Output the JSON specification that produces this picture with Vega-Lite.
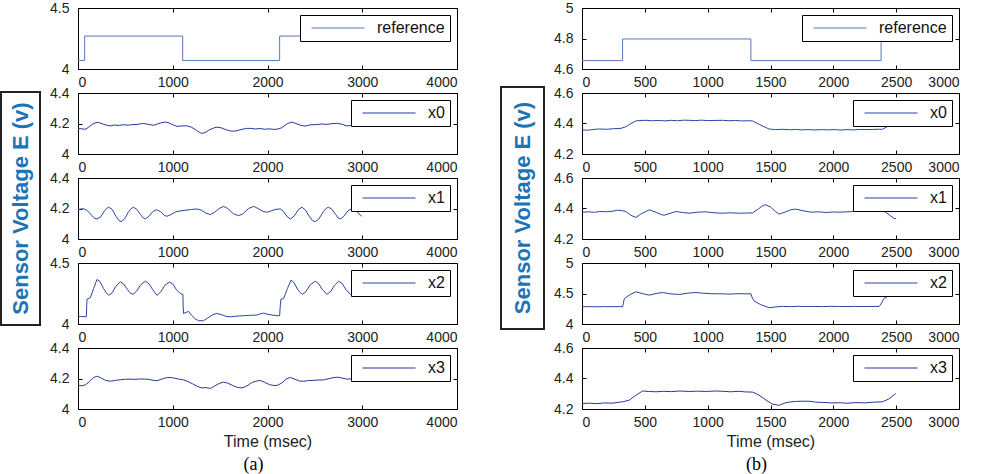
{
"$schema": "https://vega.github.io/schema/vega-lite/v6.json",
"padding": {"left": 0, "top": 0, "right": 0, "bottom": 0},
"background": "white",
"config": {
  "view": {"stroke": "#000", "strokeWidth": 1},
  "axis": {"labelFont": "Liberation Sans", "labelFontSize": 14, "labelColor": "#222", "domainColor": "#000", "tickColor": "#000", "tickSize": -4, "grid": false, "titleFont": "Liberation Sans", "titleFontWeight": "normal", "titleFontSize": 16, "titleColor": "#222", "titlePadding": 4},
  "axisX": {"labelPadding": 10},
  "axisY": {"labelPadding": 13},
  "legend": {"orient": "top-right", "offset": 7, "padding": 5, "strokeColor": "#000", "fillColor": "#fff", "symbolType": "stroke", "symbolSize": 2809, "symbolStrokeWidth": 1, "symbolOffset": 6, "labelFont": "Liberation Sans", "labelFontSize": 16, "labelColor": "#111", "labelOffset": 12, "cornerRadius": 0, "clipHeight": 16},
  "line": {"strokeWidth": 1}
},
"datasets": {
  "aref": [{"t":0,"v":4.07,"s":"reference"},{"t":70,"v":4.27,"s":"reference"},{"t":1105,"v":4.07,"s":"reference"},{"t":2128,"v":4.27,"s":"reference"},{"t":3000,"v":4.27,"s":"reference"}],
  "ax0": [{"t":0,"v":4.168,"s":"x0"},{"t":40,"v":4.165,"s":"x0"},{"t":77,"v":4.162,"s":"x0"},{"t":110,"v":4.175,"s":"x0"},{"t":150,"v":4.195,"s":"x0"},{"t":200,"v":4.208,"s":"x0"},{"t":230,"v":4.204,"s":"x0"},{"t":270,"v":4.195,"s":"x0"},{"t":310,"v":4.188,"s":"x0"},{"t":341,"v":4.184,"s":"x0"},{"t":380,"v":4.19,"s":"x0"},{"t":430,"v":4.187,"s":"x0"},{"t":480,"v":4.192,"s":"x0"},{"t":530,"v":4.189,"s":"x0"},{"t":580,"v":4.193,"s":"x0"},{"t":623,"v":4.194,"s":"x0"},{"t":660,"v":4.198,"s":"x0"},{"t":693,"v":4.2,"s":"x0"},{"t":730,"v":4.196,"s":"x0"},{"t":770,"v":4.191,"s":"x0"},{"t":799,"v":4.188,"s":"x0"},{"t":840,"v":4.197,"s":"x0"},{"t":880,"v":4.205,"s":"x0"},{"t":922,"v":4.21,"s":"x0"},{"t":960,"v":4.204,"s":"x0"},{"t":1000,"v":4.192,"s":"x0"},{"t":1045,"v":4.181,"s":"x0"},{"t":1090,"v":4.184,"s":"x0"},{"t":1150,"v":4.185,"s":"x0"},{"t":1200,"v":4.175,"s":"x0"},{"t":1250,"v":4.155,"s":"x0"},{"t":1290,"v":4.139,"s":"x0"},{"t":1309,"v":4.136,"s":"x0"},{"t":1340,"v":4.14,"s":"x0"},{"t":1380,"v":4.156,"s":"x0"},{"t":1430,"v":4.17,"s":"x0"},{"t":1467,"v":4.176,"s":"x0"},{"t":1510,"v":4.172,"s":"x0"},{"t":1560,"v":4.16,"s":"x0"},{"t":1600,"v":4.152,"s":"x0"},{"t":1643,"v":4.149,"s":"x0"},{"t":1690,"v":4.155,"s":"x0"},{"t":1740,"v":4.163,"s":"x0"},{"t":1780,"v":4.168,"s":"x0"},{"t":1819,"v":4.168,"s":"x0"},{"t":1870,"v":4.164,"s":"x0"},{"t":1920,"v":4.167,"s":"x0"},{"t":1970,"v":4.162,"s":"x0"},{"t":2020,"v":4.165,"s":"x0"},{"t":2070,"v":4.161,"s":"x0"},{"t":2110,"v":4.164,"s":"x0"},{"t":2150,"v":4.172,"s":"x0"},{"t":2200,"v":4.195,"s":"x0"},{"t":2240,"v":4.207,"s":"x0"},{"t":2259,"v":4.209,"s":"x0"},{"t":2300,"v":4.2,"s":"x0"},{"t":2350,"v":4.188,"s":"x0"},{"t":2399,"v":4.183,"s":"x0"},{"t":2440,"v":4.19,"s":"x0"},{"t":2480,"v":4.192,"s":"x0"},{"t":2522,"v":4.193,"s":"x0"},{"t":2570,"v":4.197,"s":"x0"},{"t":2620,"v":4.194,"s":"x0"},{"t":2670,"v":4.198,"s":"x0"},{"t":2733,"v":4.201,"s":"x0"},{"t":2780,"v":4.196,"s":"x0"},{"t":2839,"v":4.184,"s":"x0"},{"t":2880,"v":4.188,"s":"x0"},{"t":2930,"v":4.192,"s":"x0"},{"t":2980,"v":4.19,"s":"x0"}],
  "ax1": [{"t":0,"v":4.192,"s":"x1"},{"t":30,"v":4.197,"s":"x1"},{"t":60,"v":4.199,"s":"x1"},{"t":100,"v":4.185,"s":"x1"},{"t":140,"v":4.158,"s":"x1"},{"t":170,"v":4.138,"s":"x1"},{"t":200,"v":4.131,"s":"x1"},{"t":240,"v":4.145,"s":"x1"},{"t":280,"v":4.185,"s":"x1"},{"t":310,"v":4.205,"s":"x1"},{"t":324,"v":4.208,"s":"x1"},{"t":360,"v":4.195,"s":"x1"},{"t":400,"v":4.15,"s":"x1"},{"t":430,"v":4.122,"s":"x1"},{"t":454,"v":4.114,"s":"x1"},{"t":490,"v":4.13,"s":"x1"},{"t":530,"v":4.175,"s":"x1"},{"t":560,"v":4.2,"s":"x1"},{"t":587,"v":4.208,"s":"x1"},{"t":620,"v":4.195,"s":"x1"},{"t":660,"v":4.16,"s":"x1"},{"t":690,"v":4.137,"s":"x1"},{"t":711,"v":4.131,"s":"x1"},{"t":750,"v":4.15,"s":"x1"},{"t":790,"v":4.18,"s":"x1"},{"t":827,"v":4.192,"s":"x1"},{"t":870,"v":4.18,"s":"x1"},{"t":910,"v":4.155,"s":"x1"},{"t":939,"v":4.149,"s":"x1"},{"t":980,"v":4.16,"s":"x1"},{"t":1030,"v":4.178,"s":"x1"},{"t":1098,"v":4.186,"s":"x1"},{"t":1150,"v":4.19,"s":"x1"},{"t":1200,"v":4.194,"s":"x1"},{"t":1256,"v":4.197,"s":"x1"},{"t":1300,"v":4.19,"s":"x1"},{"t":1350,"v":4.17,"s":"x1"},{"t":1397,"v":4.16,"s":"x1"},{"t":1440,"v":4.175,"s":"x1"},{"t":1490,"v":4.2,"s":"x1"},{"t":1537,"v":4.214,"s":"x1"},{"t":1580,"v":4.2,"s":"x1"},{"t":1640,"v":4.165,"s":"x1"},{"t":1696,"v":4.153,"s":"x1"},{"t":1740,"v":4.165,"s":"x1"},{"t":1800,"v":4.2,"s":"x1"},{"t":1854,"v":4.214,"s":"x1"},{"t":1900,"v":4.2,"s":"x1"},{"t":1950,"v":4.182,"s":"x1"},{"t":1995,"v":4.175,"s":"x1"},{"t":2040,"v":4.185,"s":"x1"},{"t":2090,"v":4.195,"s":"x1"},{"t":2135,"v":4.197,"s":"x1"},{"t":2170,"v":4.18,"s":"x1"},{"t":2210,"v":4.145,"s":"x1"},{"t":2241,"v":4.131,"s":"x1"},{"t":2280,"v":4.15,"s":"x1"},{"t":2330,"v":4.195,"s":"x1"},{"t":2364,"v":4.208,"s":"x1"},{"t":2400,"v":4.19,"s":"x1"},{"t":2440,"v":4.15,"s":"x1"},{"t":2475,"v":4.12,"s":"x1"},{"t":2505,"v":4.114,"s":"x1"},{"t":2540,"v":4.13,"s":"x1"},{"t":2590,"v":4.18,"s":"x1"},{"t":2620,"v":4.202,"s":"x1"},{"t":2645,"v":4.208,"s":"x1"},{"t":2680,"v":4.195,"s":"x1"},{"t":2720,"v":4.16,"s":"x1"},{"t":2745,"v":4.138,"s":"x1"},{"t":2769,"v":4.131,"s":"x1"},{"t":2800,"v":4.145,"s":"x1"},{"t":2850,"v":4.185,"s":"x1"},{"t":2892,"v":4.199,"s":"x1"},{"t":2930,"v":4.19,"s":"x1"},{"t":2960,"v":4.17,"s":"x1"},{"t":2980,"v":4.155,"s":"x1"},{"t":2995,"v":4.15,"s":"x1"}],
  "ax2": [{"t":0,"v":4.059,"s":"x2"},{"t":40,"v":4.062,"s":"x2"},{"t":88,"v":4.059,"s":"x2"},{"t":92,"v":4.15,"s":"x2"},{"t":95,"v":4.203,"s":"x2"},{"t":130,"v":4.216,"s":"x2"},{"t":165,"v":4.29,"s":"x2"},{"t":200,"v":4.365,"s":"x2"},{"t":230,"v":4.35,"s":"x2"},{"t":270,"v":4.29,"s":"x2"},{"t":300,"v":4.255,"s":"x2"},{"t":323,"v":4.235,"s":"x2"},{"t":360,"v":4.255,"s":"x2"},{"t":400,"v":4.31,"s":"x2"},{"t":446,"v":4.346,"s":"x2"},{"t":480,"v":4.33,"s":"x2"},{"t":520,"v":4.285,"s":"x2"},{"t":550,"v":4.255,"s":"x2"},{"t":580,"v":4.243,"s":"x2"},{"t":620,"v":4.27,"s":"x2"},{"t":660,"v":4.32,"s":"x2"},{"t":710,"v":4.351,"s":"x2"},{"t":750,"v":4.33,"s":"x2"},{"t":790,"v":4.28,"s":"x2"},{"t":833,"v":4.235,"s":"x2"},{"t":870,"v":4.26,"s":"x2"},{"t":920,"v":4.32,"s":"x2"},{"t":963,"v":4.343,"s":"x2"},{"t":1000,"v":4.33,"s":"x2"},{"t":1040,"v":4.28,"s":"x2"},{"t":1079,"v":4.249,"s":"x2"},{"t":1107,"v":4.243,"s":"x2"},{"t":1110,"v":4.15,"s":"x2"},{"t":1114,"v":4.086,"s":"x2"},{"t":1140,"v":4.095,"s":"x2"},{"t":1167,"v":4.103,"s":"x2"},{"t":1200,"v":4.07,"s":"x2"},{"t":1240,"v":4.04,"s":"x2"},{"t":1272,"v":4.027,"s":"x2"},{"t":1325,"v":4.027,"s":"x2"},{"t":1370,"v":4.05,"s":"x2"},{"t":1420,"v":4.075,"s":"x2"},{"t":1466,"v":4.086,"s":"x2"},{"t":1510,"v":4.078,"s":"x2"},{"t":1560,"v":4.063,"s":"x2"},{"t":1607,"v":4.059,"s":"x2"},{"t":1650,"v":4.062,"s":"x2"},{"t":1700,"v":4.066,"s":"x2"},{"t":1748,"v":4.068,"s":"x2"},{"t":1800,"v":4.07,"s":"x2"},{"t":1850,"v":4.072,"s":"x2"},{"t":1888,"v":4.073,"s":"x2"},{"t":1930,"v":4.085,"s":"x2"},{"t":1960,"v":4.089,"s":"x2"},{"t":2000,"v":4.08,"s":"x2"},{"t":2060,"v":4.072,"s":"x2"},{"t":2100,"v":4.068,"s":"x2"},{"t":2128,"v":4.068,"s":"x2"},{"t":2135,"v":4.15,"s":"x2"},{"t":2142,"v":4.203,"s":"x2"},{"t":2170,"v":4.208,"s":"x2"},{"t":2210,"v":4.29,"s":"x2"},{"t":2248,"v":4.359,"s":"x2"},{"t":2280,"v":4.34,"s":"x2"},{"t":2320,"v":4.28,"s":"x2"},{"t":2364,"v":4.243,"s":"x2"},{"t":2400,"v":4.26,"s":"x2"},{"t":2450,"v":4.32,"s":"x2"},{"t":2505,"v":4.351,"s":"x2"},{"t":2540,"v":4.33,"s":"x2"},{"t":2580,"v":4.28,"s":"x2"},{"t":2628,"v":4.243,"s":"x2"},{"t":2670,"v":4.27,"s":"x2"},{"t":2710,"v":4.32,"s":"x2"},{"t":2751,"v":4.351,"s":"x2"},{"t":2790,"v":4.33,"s":"x2"},{"t":2830,"v":4.28,"s":"x2"},{"t":2874,"v":4.243,"s":"x2"},{"t":2910,"v":4.27,"s":"x2"},{"t":2950,"v":4.32,"s":"x2"},{"t":2985,"v":4.345,"s":"x2"}],
  "ax3": [{"t":0,"v":4.154,"s":"x3"},{"t":40,"v":4.152,"s":"x3"},{"t":77,"v":4.158,"s":"x3"},{"t":120,"v":4.18,"s":"x3"},{"t":160,"v":4.205,"s":"x3"},{"t":200,"v":4.215,"s":"x3"},{"t":240,"v":4.205,"s":"x3"},{"t":290,"v":4.188,"s":"x3"},{"t":341,"v":4.182,"s":"x3"},{"t":400,"v":4.188,"s":"x3"},{"t":450,"v":4.192,"s":"x3"},{"t":500,"v":4.195,"s":"x3"},{"t":552,"v":4.196,"s":"x3"},{"t":600,"v":4.194,"s":"x3"},{"t":650,"v":4.197,"s":"x3"},{"t":700,"v":4.196,"s":"x3"},{"t":728,"v":4.196,"s":"x3"},{"t":780,"v":4.19,"s":"x3"},{"t":834,"v":4.185,"s":"x3"},{"t":880,"v":4.195,"s":"x3"},{"t":930,"v":4.205,"s":"x3"},{"t":974,"v":4.207,"s":"x3"},{"t":1020,"v":4.202,"s":"x3"},{"t":1070,"v":4.195,"s":"x3"},{"t":1115,"v":4.191,"s":"x3"},{"t":1160,"v":4.18,"s":"x3"},{"t":1210,"v":4.165,"s":"x3"},{"t":1260,"v":4.148,"s":"x3"},{"t":1309,"v":4.138,"s":"x3"},{"t":1350,"v":4.14,"s":"x3"},{"t":1400,"v":4.135,"s":"x3"},{"t":1440,"v":4.15,"s":"x3"},{"t":1490,"v":4.168,"s":"x3"},{"t":1537,"v":4.176,"s":"x3"},{"t":1580,"v":4.17,"s":"x3"},{"t":1630,"v":4.155,"s":"x3"},{"t":1680,"v":4.142,"s":"x3"},{"t":1731,"v":4.138,"s":"x3"},{"t":1780,"v":4.15,"s":"x3"},{"t":1830,"v":4.172,"s":"x3"},{"t":1880,"v":4.183,"s":"x3"},{"t":1924,"v":4.187,"s":"x3"},{"t":1970,"v":4.175,"s":"x3"},{"t":2020,"v":4.16,"s":"x3"},{"t":2060,"v":4.155,"s":"x3"},{"t":2100,"v":4.154,"s":"x3"},{"t":2150,"v":4.17,"s":"x3"},{"t":2200,"v":4.198,"s":"x3"},{"t":2241,"v":4.207,"s":"x3"},{"t":2290,"v":4.195,"s":"x3"},{"t":2340,"v":4.183,"s":"x3"},{"t":2382,"v":4.182,"s":"x3"},{"t":2430,"v":4.186,"s":"x3"},{"t":2480,"v":4.188,"s":"x3"},{"t":2540,"v":4.19,"s":"x3"},{"t":2593,"v":4.191,"s":"x3"},{"t":2640,"v":4.198,"s":"x3"},{"t":2690,"v":4.205,"s":"x3"},{"t":2733,"v":4.209,"s":"x3"},{"t":2780,"v":4.204,"s":"x3"},{"t":2839,"v":4.196,"s":"x3"},{"t":2890,"v":4.198,"s":"x3"},{"t":2950,"v":4.199,"s":"x3"},{"t":3000,"v":4.2,"s":"x3"}],
  "bref": [{"t":0,"v":4.655,"s":"reference"},{"t":323,"v":4.797,"s":"reference"},{"t":1344,"v":4.655,"s":"reference"},{"t":2380,"v":4.797,"s":"reference"},{"t":2500,"v":4.797,"s":"reference"}],
  "bx0": [{"t":0,"v":4.358,"s":"x0"},{"t":50,"v":4.356,"s":"x0"},{"t":100,"v":4.362,"s":"x0"},{"t":138,"v":4.364,"s":"x0"},{"t":200,"v":4.362,"s":"x0"},{"t":250,"v":4.366,"s":"x0"},{"t":310,"v":4.368,"s":"x0"},{"t":350,"v":4.379,"s":"x0"},{"t":390,"v":4.4,"s":"x0"},{"t":429,"v":4.417,"s":"x0"},{"t":470,"v":4.42,"s":"x0"},{"t":509,"v":4.421,"s":"x0"},{"t":560,"v":4.418,"s":"x0"},{"t":610,"v":4.42,"s":"x0"},{"t":660,"v":4.417,"s":"x0"},{"t":710,"v":4.421,"s":"x0"},{"t":760,"v":4.418,"s":"x0"},{"t":810,"v":4.422,"s":"x0"},{"t":853,"v":4.421,"s":"x0"},{"t":900,"v":4.419,"s":"x0"},{"t":950,"v":4.422,"s":"x0"},{"t":1000,"v":4.419,"s":"x0"},{"t":1050,"v":4.42,"s":"x0"},{"t":1118,"v":4.421,"s":"x0"},{"t":1170,"v":4.418,"s":"x0"},{"t":1220,"v":4.42,"s":"x0"},{"t":1270,"v":4.417,"s":"x0"},{"t":1320,"v":4.418,"s":"x0"},{"t":1357,"v":4.417,"s":"x0"},{"t":1385,"v":4.405,"s":"x0"},{"t":1410,"v":4.394,"s":"x0"},{"t":1450,"v":4.378,"s":"x0"},{"t":1489,"v":4.364,"s":"x0"},{"t":1542,"v":4.36,"s":"x0"},{"t":1600,"v":4.362,"s":"x0"},{"t":1650,"v":4.359,"s":"x0"},{"t":1700,"v":4.361,"s":"x0"},{"t":1750,"v":4.358,"s":"x0"},{"t":1800,"v":4.36,"s":"x0"},{"t":1850,"v":4.358,"s":"x0"},{"t":1913,"v":4.36,"s":"x0"},{"t":1960,"v":4.358,"s":"x0"},{"t":2010,"v":4.36,"s":"x0"},{"t":2060,"v":4.357,"s":"x0"},{"t":2110,"v":4.36,"s":"x0"},{"t":2160,"v":4.358,"s":"x0"},{"t":2210,"v":4.361,"s":"x0"},{"t":2260,"v":4.36,"s":"x0"},{"t":2310,"v":4.361,"s":"x0"},{"t":2360,"v":4.362,"s":"x0"},{"t":2390,"v":4.362,"s":"x0"},{"t":2420,"v":4.375,"s":"x0"},{"t":2443,"v":4.389,"s":"x0"},{"t":2470,"v":4.4,"s":"x0"},{"t":2500,"v":4.41,"s":"x0"}],
  "bx1": [{"t":0,"v":4.376,"s":"x1"},{"t":50,"v":4.378,"s":"x1"},{"t":100,"v":4.375,"s":"x1"},{"t":138,"v":4.38,"s":"x1"},{"t":200,"v":4.379,"s":"x1"},{"t":250,"v":4.383,"s":"x1"},{"t":284,"v":4.389,"s":"x1"},{"t":320,"v":4.386,"s":"x1"},{"t":350,"v":4.38,"s":"x1"},{"t":390,"v":4.355,"s":"x1"},{"t":429,"v":4.341,"s":"x1"},{"t":470,"v":4.365,"s":"x1"},{"t":535,"v":4.391,"s":"x1"},{"t":590,"v":4.375,"s":"x1"},{"t":630,"v":4.36,"s":"x1"},{"t":655,"v":4.356,"s":"x1"},{"t":700,"v":4.368,"s":"x1"},{"t":747,"v":4.38,"s":"x1"},{"t":800,"v":4.374,"s":"x1"},{"t":853,"v":4.369,"s":"x1"},{"t":920,"v":4.376,"s":"x1"},{"t":986,"v":4.378,"s":"x1"},{"t":1050,"v":4.372,"s":"x1"},{"t":1118,"v":4.369,"s":"x1"},{"t":1180,"v":4.372,"s":"x1"},{"t":1250,"v":4.369,"s":"x1"},{"t":1300,"v":4.37,"s":"x1"},{"t":1357,"v":4.371,"s":"x1"},{"t":1400,"v":4.395,"s":"x1"},{"t":1440,"v":4.42,"s":"x1"},{"t":1463,"v":4.424,"s":"x1"},{"t":1500,"v":4.41,"s":"x1"},{"t":1540,"v":4.38,"s":"x1"},{"t":1569,"v":4.363,"s":"x1"},{"t":1620,"v":4.378,"s":"x1"},{"t":1660,"v":4.392,"s":"x1"},{"t":1701,"v":4.396,"s":"x1"},{"t":1760,"v":4.385,"s":"x1"},{"t":1821,"v":4.376,"s":"x1"},{"t":1880,"v":4.378,"s":"x1"},{"t":1940,"v":4.374,"s":"x1"},{"t":2000,"v":4.377,"s":"x1"},{"t":2046,"v":4.376,"s":"x1"},{"t":2100,"v":4.378,"s":"x1"},{"t":2160,"v":4.38,"s":"x1"},{"t":2220,"v":4.383,"s":"x1"},{"t":2290,"v":4.386,"s":"x1"},{"t":2364,"v":4.389,"s":"x1"},{"t":2417,"v":4.376,"s":"x1"},{"t":2450,"v":4.355,"s":"x1"},{"t":2483,"v":4.336,"s":"x1"},{"t":2500,"v":4.333,"s":"x1"}],
  "bx2": [{"t":0,"v":4.283,"s":"x2"},{"t":60,"v":4.285,"s":"x2"},{"t":120,"v":4.282,"s":"x2"},{"t":180,"v":4.284,"s":"x2"},{"t":240,"v":4.283,"s":"x2"},{"t":300,"v":4.285,"s":"x2"},{"t":323,"v":4.283,"s":"x2"},{"t":337,"v":4.418,"s":"x2"},{"t":380,"v":4.48,"s":"x2"},{"t":429,"v":4.527,"s":"x2"},{"t":480,"v":4.5,"s":"x2"},{"t":535,"v":4.473,"s":"x2"},{"t":590,"v":4.5,"s":"x2"},{"t":641,"v":4.516,"s":"x2"},{"t":700,"v":4.495,"s":"x2"},{"t":774,"v":4.484,"s":"x2"},{"t":840,"v":4.505,"s":"x2"},{"t":906,"v":4.516,"s":"x2"},{"t":960,"v":4.505,"s":"x2"},{"t":1020,"v":4.498,"s":"x2"},{"t":1070,"v":4.495,"s":"x2"},{"t":1118,"v":4.495,"s":"x2"},{"t":1180,"v":4.49,"s":"x2"},{"t":1240,"v":4.497,"s":"x2"},{"t":1300,"v":4.495,"s":"x2"},{"t":1344,"v":4.495,"s":"x2"},{"t":1355,"v":4.43,"s":"x2"},{"t":1370,"v":4.375,"s":"x2"},{"t":1420,"v":4.32,"s":"x2"},{"t":1489,"v":4.266,"s":"x2"},{"t":1540,"v":4.28,"s":"x2"},{"t":1595,"v":4.288,"s":"x2"},{"t":1660,"v":4.285,"s":"x2"},{"t":1720,"v":4.29,"s":"x2"},{"t":1780,"v":4.286,"s":"x2"},{"t":1840,"v":4.288,"s":"x2"},{"t":1913,"v":4.285,"s":"x2"},{"t":1980,"v":4.29,"s":"x2"},{"t":2040,"v":4.287,"s":"x2"},{"t":2100,"v":4.285,"s":"x2"},{"t":2160,"v":4.289,"s":"x2"},{"t":2220,"v":4.286,"s":"x2"},{"t":2290,"v":4.288,"s":"x2"},{"t":2364,"v":4.288,"s":"x2"},{"t":2380,"v":4.33,"s":"x2"},{"t":2403,"v":4.418,"s":"x2"},{"t":2457,"v":4.484,"s":"x2"},{"t":2500,"v":4.5,"s":"x2"}],
  "bx3": [{"t":0,"v":4.236,"s":"x3"},{"t":60,"v":4.238,"s":"x3"},{"t":120,"v":4.235,"s":"x3"},{"t":180,"v":4.24,"s":"x3"},{"t":240,"v":4.238,"s":"x3"},{"t":300,"v":4.245,"s":"x3"},{"t":323,"v":4.247,"s":"x3"},{"t":376,"v":4.258,"s":"x3"},{"t":420,"v":4.285,"s":"x3"},{"t":482,"v":4.318,"s":"x3"},{"t":530,"v":4.315,"s":"x3"},{"t":588,"v":4.313,"s":"x3"},{"t":650,"v":4.316,"s":"x3"},{"t":710,"v":4.314,"s":"x3"},{"t":780,"v":4.318,"s":"x3"},{"t":850,"v":4.315,"s":"x3"},{"t":920,"v":4.317,"s":"x3"},{"t":990,"v":4.315,"s":"x3"},{"t":1060,"v":4.318,"s":"x3"},{"t":1118,"v":4.316,"s":"x3"},{"t":1180,"v":4.313,"s":"x3"},{"t":1250,"v":4.316,"s":"x3"},{"t":1300,"v":4.312,"s":"x3"},{"t":1357,"v":4.311,"s":"x3"},{"t":1400,"v":4.295,"s":"x3"},{"t":1436,"v":4.275,"s":"x3"},{"t":1480,"v":4.25,"s":"x3"},{"t":1516,"v":4.232,"s":"x3"},{"t":1569,"v":4.224,"s":"x3"},{"t":1610,"v":4.238,"s":"x3"},{"t":1648,"v":4.245,"s":"x3"},{"t":1700,"v":4.25,"s":"x3"},{"t":1760,"v":4.251,"s":"x3"},{"t":1807,"v":4.251,"s":"x3"},{"t":1860,"v":4.245,"s":"x3"},{"t":1920,"v":4.243,"s":"x3"},{"t":1980,"v":4.24,"s":"x3"},{"t":2046,"v":4.241,"s":"x3"},{"t":2110,"v":4.238,"s":"x3"},{"t":2180,"v":4.242,"s":"x3"},{"t":2250,"v":4.24,"s":"x3"},{"t":2320,"v":4.245,"s":"x3"},{"t":2390,"v":4.247,"s":"x3"},{"t":2440,"v":4.265,"s":"x3"},{"t":2496,"v":4.301,"s":"x3"}],
  "lab": [{"lab": "Sensor Voltage E (v)"}],
  "blank": [{"lab": ""}]
},
"hconcat": [
 {"hconcat": [
   {"vconcat": [
     {"width": 39, "height": 84, "data": {"name": "blank"}, "mark": {"type": "text"}, "encoding": {"text": {"field": "lab"}}, "view": {"stroke": null}},
     {"width": 39, "height": 233, "data": {"name": "lab"}, "mark": {"type": "text", "angle": 270, "font": "Liberation Sans", "fontWeight": "bold", "fontSize": 22, "color": "#1d74b5", "align": "center", "baseline": "middle"}, "encoding": {"text": {"field": "lab"}}, "view": {"stroke": "#222", "strokeWidth": 2}}
   ], "spacing": 0, "bounds": "flush"},
   {"vconcat": [
     {"width": 379, "height": 61, "data": {"name": "aref"}, "layer": [
       {"mark": {"type": "line", "interpolate": "step-after", "strokeWidth": 1},
        "encoding": {"x": {"field": "t", "type": "quantitative", "scale": {"domain": [0, 4000]}, "axis": {"values": [0,1000,2000,3000,4000], "format": "d", "title": null}},
                     "y": {"field": "v", "type": "quantitative", "scale": {"domain": [4, 4.5], "zero": false}, "axis": {"values": [4, 4.5], "format": "~g", "title": null}},
                     "color": {"field": "s", "type": "nominal", "scale": {"range": ["#5a77bb"]}, "legend": {"title": null}}}},
       {"mark": {"type": "line", "interpolate": "step-after", "strokeWidth": 1, "opacity": 0},
        "encoding": {"x": {"field": "t", "type": "quantitative", "axis": {"orient": "top", "values": [0,1000,2000,3000,4000], "labels": false, "domain": false, "title": null}},
                     "y": {"field": "v", "type": "quantitative", "axis": {"orient": "right", "values": [4, 4.5], "labels": false, "domain": false, "title": null}}}}
     ], "resolve": {"axis": {"x": "independent", "y": "independent"}}},
     {"width": 379, "height": 61, "data": {"name": "ax0"}, "layer": [
       {"mark": {"type": "line", "strokeWidth": 1},
        "encoding": {"x": {"field": "t", "type": "quantitative", "scale": {"domain": [0, 4000]}, "axis": {"values": [0,1000,2000,3000,4000], "format": "d", "title": null}},
                     "y": {"field": "v", "type": "quantitative", "scale": {"domain": [4, 4.4], "zero": false}, "axis": {"values": [4, 4.2, 4.4], "format": "~g", "title": null}},
                     "color": {"field": "s", "type": "nominal", "scale": {"range": ["#26399a"]}, "legend": {"title": null}}}},
       {"mark": {"type": "line", "strokeWidth": 1, "opacity": 0},
        "encoding": {"x": {"field": "t", "type": "quantitative", "axis": {"orient": "top", "values": [0,1000,2000,3000,4000], "labels": false, "domain": false, "title": null}},
                     "y": {"field": "v", "type": "quantitative", "axis": {"orient": "right", "values": [4, 4.2, 4.4], "labels": false, "domain": false, "title": null}}}}
     ], "resolve": {"axis": {"x": "independent", "y": "independent"}}},
     {"width": 379, "height": 61, "data": {"name": "ax1"}, "layer": [
       {"mark": {"type": "line", "strokeWidth": 1},
        "encoding": {"x": {"field": "t", "type": "quantitative", "scale": {"domain": [0, 4000]}, "axis": {"values": [0,1000,2000,3000,4000], "format": "d", "title": null}},
                     "y": {"field": "v", "type": "quantitative", "scale": {"domain": [4, 4.4], "zero": false}, "axis": {"values": [4, 4.2, 4.4], "format": "~g", "title": null}},
                     "color": {"field": "s", "type": "nominal", "scale": {"range": ["#2e44a0"]}, "legend": {"title": null}}}},
       {"mark": {"type": "line", "strokeWidth": 1, "opacity": 0},
        "encoding": {"x": {"field": "t", "type": "quantitative", "axis": {"orient": "top", "values": [0,1000,2000,3000,4000], "labels": false, "domain": false, "title": null}},
                     "y": {"field": "v", "type": "quantitative", "axis": {"orient": "right", "values": [4, 4.2, 4.4], "labels": false, "domain": false, "title": null}}}}
     ], "resolve": {"axis": {"x": "independent", "y": "independent"}}},
     {"width": 379, "height": 61, "data": {"name": "ax2"}, "layer": [
       {"mark": {"type": "line", "strokeWidth": 1},
        "encoding": {"x": {"field": "t", "type": "quantitative", "scale": {"domain": [0, 4000]}, "axis": {"values": [0,1000,2000,3000,4000], "format": "d", "title": null}},
                     "y": {"field": "v", "type": "quantitative", "scale": {"domain": [4, 4.5], "zero": false}, "axis": {"values": [4, 4.5], "format": "~g", "title": null}},
                     "color": {"field": "s", "type": "nominal", "scale": {"range": ["#2e44a0"]}, "legend": {"title": null}}}},
       {"mark": {"type": "line", "strokeWidth": 1, "opacity": 0},
        "encoding": {"x": {"field": "t", "type": "quantitative", "axis": {"orient": "top", "values": [0,1000,2000,3000,4000], "labels": false, "domain": false, "title": null}},
                     "y": {"field": "v", "type": "quantitative", "axis": {"orient": "right", "values": [4, 4.5], "labels": false, "domain": false, "title": null}}}}
     ], "resolve": {"axis": {"x": "independent", "y": "independent"}}},
     {"width": 379, "height": 61, "data": {"name": "ax3"}, "layer": [
       {"mark": {"type": "line", "strokeWidth": 1},
        "encoding": {"x": {"field": "t", "type": "quantitative", "scale": {"domain": [0, 4000]}, "axis": {"values": [0,1000,2000,3000,4000], "format": "d", "title": "Time (msec)"}},
                     "y": {"field": "v", "type": "quantitative", "scale": {"domain": [4, 4.4], "zero": false}, "axis": {"values": [4, 4.2, 4.4], "format": "~g", "title": null}},
                     "color": {"field": "s", "type": "nominal", "scale": {"range": ["#26399a"]}, "legend": {"title": null}}}},
       {"mark": {"type": "line", "strokeWidth": 1, "opacity": 0},
        "encoding": {"x": {"field": "t", "type": "quantitative", "axis": {"orient": "top", "values": [0,1000,2000,3000,4000], "labels": false, "domain": false, "title": null}},
                     "y": {"field": "v", "type": "quantitative", "axis": {"orient": "right", "values": [4, 4.2, 4.4], "labels": false, "domain": false, "title": null}}}}
     ], "resolve": {"axis": {"x": "independent", "y": "independent"}}}
   ], "spacing": 24, "bounds": "flush",
   "title": {"text": "(a)", "orient": "bottom", "anchor": "middle", "font": "Liberation Serif", "fontSize": 18, "fontWeight": "normal", "color": "#000", "offset": 6},
   "resolve": {"scale": {"x": "independent", "y": "independent", "color": "independent"}, "axis": {"x": "independent", "y": "independent"}, "legend": {"color": "independent"}}}
 ], "spacing": 8,
 "resolve": {"scale": {"x": "independent", "y": "independent", "color": "independent"}, "axis": {"x": "independent", "y": "independent"}, "legend": {"color": "independent"}}},
 {"hconcat": [
   {"vconcat": [
     {"width": 43, "height": 79, "data": {"name": "blank"}, "mark": {"type": "text"}, "encoding": {"text": {"field": "lab"}}, "view": {"stroke": null}},
     {"width": 43, "height": 242, "data": {"name": "lab"}, "mark": {"type": "text", "angle": 270, "font": "Liberation Sans", "fontWeight": "bold", "fontSize": 22, "color": "#1d74b5", "align": "center", "baseline": "middle"}, "encoding": {"text": {"field": "lab"}}, "view": {"stroke": "#222", "strokeWidth": 2}}
   ], "spacing": 0, "bounds": "flush"},
   {"vconcat": [
     {"width": 377, "height": 61, "data": {"name": "bref"}, "layer": [
       {"mark": {"type": "line", "interpolate": "step-after", "strokeWidth": 1},
        "encoding": {"x": {"field": "t", "type": "quantitative", "scale": {"domain": [0, 3000]}, "axis": {"values": [0,500,1000,1500,2000,2500,3000], "format": "d", "title": null}},
                     "y": {"field": "v", "type": "quantitative", "scale": {"domain": [4.6, 5], "zero": false}, "axis": {"values": [4.6, 4.8, 5], "format": "~g", "title": null}},
                     "color": {"field": "s", "type": "nominal", "scale": {"range": ["#5a77bb"]}, "legend": {"title": null}}}},
       {"mark": {"type": "line", "interpolate": "step-after", "strokeWidth": 1, "opacity": 0},
        "encoding": {"x": {"field": "t", "type": "quantitative", "axis": {"orient": "top", "values": [0,500,1000,1500,2000,2500,3000], "labels": false, "domain": false, "title": null}},
                     "y": {"field": "v", "type": "quantitative", "axis": {"orient": "right", "values": [4.6, 4.8, 5], "labels": false, "domain": false, "title": null}}}}
     ], "resolve": {"axis": {"x": "independent", "y": "independent"}}},
     {"width": 377, "height": 61, "data": {"name": "bx0"}, "layer": [
       {"mark": {"type": "line", "strokeWidth": 1},
        "encoding": {"x": {"field": "t", "type": "quantitative", "scale": {"domain": [0, 3000]}, "axis": {"values": [0,500,1000,1500,2000,2500,3000], "format": "d", "title": null}},
                     "y": {"field": "v", "type": "quantitative", "scale": {"domain": [4.2, 4.6], "zero": false}, "axis": {"values": [4.2, 4.4, 4.6], "format": "~g", "title": null}},
                     "color": {"field": "s", "type": "nominal", "scale": {"range": ["#2e44a0"]}, "legend": {"title": null}}}},
       {"mark": {"type": "line", "strokeWidth": 1, "opacity": 0},
        "encoding": {"x": {"field": "t", "type": "quantitative", "axis": {"orient": "top", "values": [0,500,1000,1500,2000,2500,3000], "labels": false, "domain": false, "title": null}},
                     "y": {"field": "v", "type": "quantitative", "axis": {"orient": "right", "values": [4.2, 4.4, 4.6], "labels": false, "domain": false, "title": null}}}}
     ], "resolve": {"axis": {"x": "independent", "y": "independent"}}},
     {"width": 377, "height": 61, "data": {"name": "bx1"}, "layer": [
       {"mark": {"type": "line", "strokeWidth": 1},
        "encoding": {"x": {"field": "t", "type": "quantitative", "scale": {"domain": [0, 3000]}, "axis": {"values": [0,500,1000,1500,2000,2500,3000], "format": "d", "title": null}},
                     "y": {"field": "v", "type": "quantitative", "scale": {"domain": [4.2, 4.6], "zero": false}, "axis": {"values": [4.2, 4.4, 4.6], "format": "~g", "title": null}},
                     "color": {"field": "s", "type": "nominal", "scale": {"range": ["#2e44a0"]}, "legend": {"title": null}}}},
       {"mark": {"type": "line", "strokeWidth": 1, "opacity": 0},
        "encoding": {"x": {"field": "t", "type": "quantitative", "axis": {"orient": "top", "values": [0,500,1000,1500,2000,2500,3000], "labels": false, "domain": false, "title": null}},
                     "y": {"field": "v", "type": "quantitative", "axis": {"orient": "right", "values": [4.2, 4.4, 4.6], "labels": false, "domain": false, "title": null}}}}
     ], "resolve": {"axis": {"x": "independent", "y": "independent"}}},
     {"width": 377, "height": 61, "data": {"name": "bx2"}, "layer": [
       {"mark": {"type": "line", "strokeWidth": 1},
        "encoding": {"x": {"field": "t", "type": "quantitative", "scale": {"domain": [0, 3000]}, "axis": {"values": [0,500,1000,1500,2000,2500,3000], "format": "d", "title": null}},
                     "y": {"field": "v", "type": "quantitative", "scale": {"domain": [4, 5], "zero": false}, "axis": {"values": [4, 4.5, 5], "format": "~g", "title": null}},
                     "color": {"field": "s", "type": "nominal", "scale": {"range": ["#2e44a0"]}, "legend": {"title": null}}}},
       {"mark": {"type": "line", "strokeWidth": 1, "opacity": 0},
        "encoding": {"x": {"field": "t", "type": "quantitative", "axis": {"orient": "top", "values": [0,500,1000,1500,2000,2500,3000], "labels": false, "domain": false, "title": null}},
                     "y": {"field": "v", "type": "quantitative", "axis": {"orient": "right", "values": [4, 4.5, 5], "labels": false, "domain": false, "title": null}}}}
     ], "resolve": {"axis": {"x": "independent", "y": "independent"}}},
     {"width": 377, "height": 61, "data": {"name": "bx3"}, "layer": [
       {"mark": {"type": "line", "strokeWidth": 1},
        "encoding": {"x": {"field": "t", "type": "quantitative", "scale": {"domain": [0, 3000]}, "axis": {"values": [0,500,1000,1500,2000,2500,3000], "format": "d", "title": "Time (msec)"}},
                     "y": {"field": "v", "type": "quantitative", "scale": {"domain": [4.2, 4.6], "zero": false}, "axis": {"values": [4.2, 4.4, 4.6], "format": "~g", "title": null}},
                     "color": {"field": "s", "type": "nominal", "scale": {"range": ["#26399a"]}, "legend": {"title": null}}}},
       {"mark": {"type": "line", "strokeWidth": 1, "opacity": 0},
        "encoding": {"x": {"field": "t", "type": "quantitative", "axis": {"orient": "top", "values": [0,500,1000,1500,2000,2500,3000], "labels": false, "domain": false, "title": null}},
                     "y": {"field": "v", "type": "quantitative", "axis": {"orient": "right", "values": [4.2, 4.4, 4.6], "labels": false, "domain": false, "title": null}}}}
     ], "resolve": {"axis": {"x": "independent", "y": "independent"}}}
   ], "spacing": 24, "bounds": "flush",
   "title": {"text": "(b)", "orient": "bottom", "anchor": "middle", "font": "Liberation Serif", "fontSize": 18, "fontWeight": "normal", "color": "#000", "offset": 6},
   "resolve": {"scale": {"x": "independent", "y": "independent", "color": "independent"}, "axis": {"x": "independent", "y": "independent"}, "legend": {"color": "independent"}}}
 ], "spacing": 8,
 "resolve": {"scale": {"x": "independent", "y": "independent", "color": "independent"}, "axis": {"x": "independent", "y": "independent"}, "legend": {"color": "independent"}}}
],
"spacing": 42,
"resolve": {"scale": {"x": "independent", "y": "independent", "color": "independent"}, "axis": {"x": "independent", "y": "independent"}, "legend": {"color": "independent"}}
}
